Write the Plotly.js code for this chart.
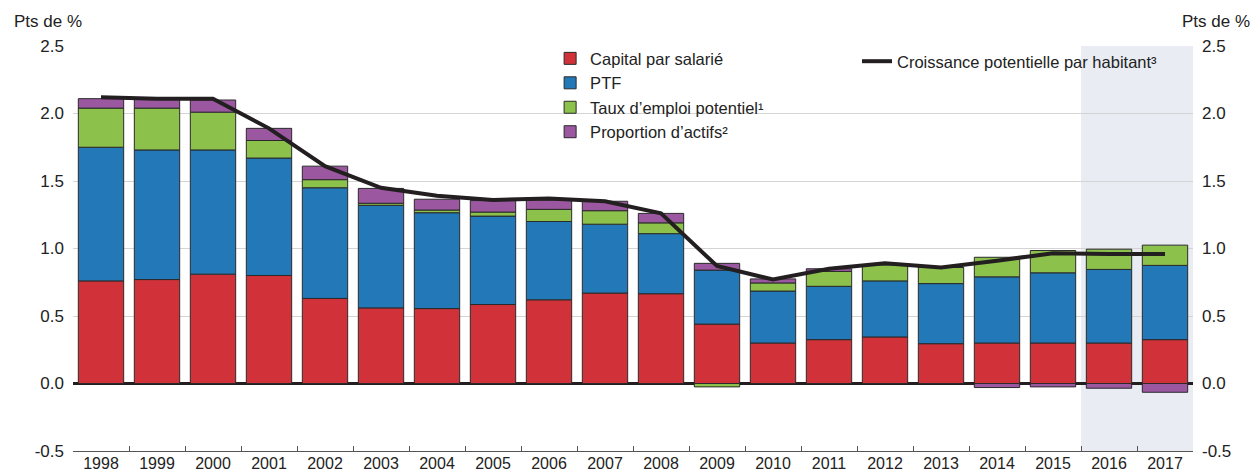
<!DOCTYPE html>
<html>
<head>
<meta charset="utf-8">
<script src="https://cdn.plot.ly/plotly-3.0.1.min.js"></script>
<style>
html,body{margin:0;padding:0;background:#fff;}
#chart{width:1254px;height:474px;}
</style>
</head>
<body>
<div id="chart"></div>
<script>
const years = ['1998','1999','2000','2001','2002','2003','2004','2005','2006','2007','2008','2009','2010','2011','2012','2013','2014','2015','2016','2017'];
const projectionYears = ['2016','2017'];
const seriesNames = ['Capital par salarié','PTF','Taux d’emploi potentiel¹','Proportion d’actifs²','Croissance potentielle par habitant³'];
const capitalParSalarie = [0.76,0.77,0.81,0.80,0.63,0.56,0.555,0.585,0.62,0.67,0.665,0.44,0.30,0.325,0.345,0.295,0.30,0.30,0.30,0.325];
const ptf = [0.99,0.96,0.92,0.87,0.82,0.76,0.71,0.655,0.58,0.51,0.445,0.40,0.385,0.395,0.415,0.445,0.49,0.52,0.545,0.55];
const tauxEmploi = [0.29,0.31,0.28,0.13,0.06,0.015,0.02,0.03,0.09,0.10,0.08,-0.025,0.06,0.11,0.12,0.12,0.145,0.165,0.15,0.15];
const proportionActifs = [0.07,0.075,0.09,0.09,0.10,0.11,0.08,0.085,0.07,0.07,0.07,0.05,0.03,0.02,0,0,-0.03,-0.025,-0.035,-0.065];
const croissance = [2.12,2.11,2.11,1.89,1.61,1.45,1.39,1.36,1.37,1.35,1.26,0.87,0.77,0.85,0.89,0.86,0.91,0.965,0.96,0.96];
const yTicks = [-0.5,0.0,0.5,1.0,1.5,2.0,2.5];
const yTickText = ['-0.5','0.0','0.5','1.0','1.5','2.0','2.5'];
const axisUnit = 'Pts de %';

const colors = ['#d13239','#2378b7','#8cc14c','#9b58a0'];
const outline = {color:'#2a2a2a', width:1};
const font = {family:'"Liberation Sans", Arial, sans-serif', size:17, color:'#222'};
const xFont = {family:'"Liberation Sans", Arial, sans-serif', size:16, color:'#222'};
const legFont = {family:'"Liberation Sans", Arial, sans-serif', size:16.5, color:'#222'};

const barData = [capitalParSalarie, ptf, tauxEmploi, proportionActifs];
const traces = barData.map((vals,i)=>({
  type:'bar', x:years, y:vals, name:seriesNames[i],
  marker:{color:colors[i], line:outline},
  legend:'legend', hoverinfo:'skip'
}));
traces.push({
  type:'scatter', mode:'lines', x:years, y:croissance, name:seriesNames[4],
  line:{color:'#231f20', width:4}, legend:'legend2', hoverinfo:'skip'
});
// invisible trace to activate right axis
traces.push({type:'scatter', mode:'markers', x:[years[0]], y:[0], yaxis:'y2', marker:{opacity:0}, showlegend:false, hoverinfo:'skip'});

const projStart = years.indexOf(projectionYears[0]) - 0.5;
const projEnd = years.indexOf(projectionYears[projectionYears.length-1]) + 0.5;

const layout = {
  width:1254, height:474,
  margin:{l:73, r:61, t:46, b:23},
  paper_bgcolor:'#fff', plot_bgcolor:'rgba(0,0,0,0)',
  font:font,
  barmode:'relative',
  bargap:0.19,
  showlegend:true,
  xaxis:{
    type:'category', range:[-0.5, years.length-0.5],
    showgrid:false, showline:true, linecolor:'#555', linewidth:1,
    ticks:'inside', tickson:'boundaries', ticklen:5, tickcolor:'#555',
    tickfont:xFont, ticklabelstandoff:-2, fixedrange:true, zeroline:false
  },
  yaxis:{
    range:[-0.5,2.5], tickvals:yTicks, ticktext:yTickText,
    showgrid:true, gridcolor:'#d4d4d4', gridwidth:1,
    zeroline:true, zerolinecolor:'#231f20', zerolinewidth:2.5,
    showline:false, ticks:'', ticklabelstandoff:8, tickfont:font, fixedrange:true
  },
  yaxis2:{
    overlaying:'y', side:'right', range:[-0.5,2.5], tickvals:yTicks, ticktext:yTickText,
    showgrid:false, zeroline:false, showline:false, ticks:'', ticklabelstandoff:8,
    tickfont:font, fixedrange:true
  },
  legend:{
    x:0.426, xanchor:'left', y:1.012, yanchor:'top',
    bgcolor:'rgba(0,0,0,0)', borderwidth:0, font:legFont,
    tracegroupgap:0, traceorder:'normal', itemwidth:30
  },
  legend2:{
    x:0.700, xanchor:'left', y:1.005, yanchor:'top',
    bgcolor:'rgba(0,0,0,0)', borderwidth:0, font:legFont, itemwidth:30
  },
  shapes:[{
    type:'rect', xref:'x', yref:'paper', x0:projStart, x1:projEnd, y0:0, y1:1,
    fillcolor:'#e9edf3', line:{width:0}, layer:'below'
  }],
  annotations:[
    {text:axisUnit, xref:'paper', yref:'paper', x:0, xshift:-61, xanchor:'left', y:1, yshift:25, yanchor:'middle', showarrow:false, font:font},
    {text:axisUnit, xref:'paper', yref:'paper', x:1, xshift:59, xanchor:'right', y:1, yshift:25, yanchor:'middle', showarrow:false, font:font}
  ]
};

Plotly.newPlot('chart', traces, layout, {staticPlot:true, displayModeBar:false});
</script>
</body>
</html>
